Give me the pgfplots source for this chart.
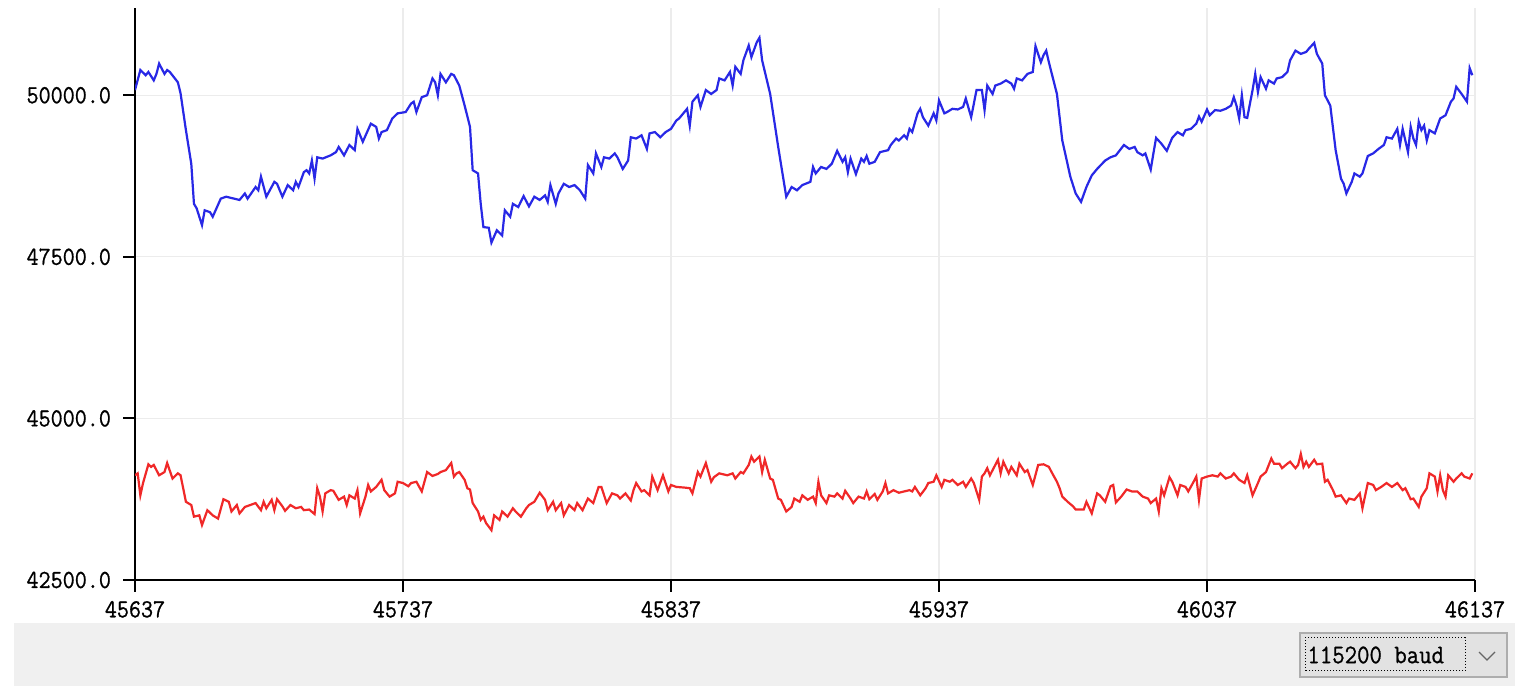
\documentclass[border=0pt]{standalone}
\usepackage{pgfplots}
\pgfplotsset{compat=1.18}
\usepackage{fontspec}
\setmainfont{Latin Modern Mono}[FakeStretch=0.9, FakeBold=0.8]
\definecolor{plotblue}{RGB}{40,40,230}
\definecolor{plotred}{RGB}{240,40,40}
\definecolor{gridgray}{RGB}{236,236,236}
\definecolor{bargray}{RGB}{240,240,240}
\definecolor{boxfill}{RGB}{226,226,226}
\definecolor{boxline}{RGB}{173,173,173}

\begin{document}
\begin{tikzpicture}
% page and bottom bar (1px = 0.5pt)
\fill[white] (0,0) rectangle (757.5pt,350pt);
\fill[bargray] (7pt,7pt) rectangle (757.5pt,38.5pt);
\filldraw[fill=boxfill, draw=boxline, line width=0.6pt] (650pt,11.5pt) rectangle (753.5pt,33.5pt);
\draw[densely dotted, line width=0.5pt] (652.5pt,14.5pt) rectangle (732.5pt,31pt);
\node[anchor=west, inner sep=0pt, font=\fontsize{13.4}{15}\selectfont] at (653.5pt,22.5pt) {115200 baud};
\draw[black!60, line width=0.6pt] (739.5pt,24pt) -- (743.5pt,20pt) -- (747.5pt,24pt);

\begin{axis}[
at={(67.5pt,60pt)}, anchor=south west,
scale only axis, width=670pt, height=286pt,
xmin=45637, xmax=46137,
ymin=42500, ymax=51350,
scaled x ticks=false, scaled y ticks=false,
axis x line=bottom, axis y line=left,
axis line style={-, line width=1pt, black},
tick align=outside, major tick length=6pt,
tick style={line width=1pt, black},
xtick={45637,45737,45837,45937,46037,46137},
xticklabels={45637,45737,45837,45937,46037,46137},
ytick={42500,45000,47500,50000},
yticklabels={42500.0,45000.0,47500.0,50000.0},
tick label style={font=\fontsize{13}{15}\selectfont},
yticklabel style={xshift=-2.5pt},
xticklabel style={yshift=-1pt},
grid=major,
major grid style={gridgray, line width=0.6pt},
]
\addplot[plotblue, line width=1.1pt] coordinates {
(45637,50080) (45639,50390) (45641,50310) (45642,50360) (45644,50230) (45645,50330) (45646,50490) (45648,50330) (45649,50390) (45650,50360) (45653,50200) (45654,50030) (45656,49460) (45658,48940) (45659,48320) (45660,48250) (45662,47990) (45663,48220) (45665,48190) (45666,48120) (45669,48400) (45671,48430) (45674,48400) (45676,48380) (45678,48480) (45679,48400) (45682,48580) (45683,48530) (45684,48740) (45686,48430) (45689,48660) (45690,48630) (45692,48430) (45694,48610) (45696,48530) (45697,48660) (45698,48580) (45700,48810) (45701,48840) (45702,48790) (45703,48990) (45704,48710) (45705,49040) (45707,49020) (45710,49070) (45712,49120) (45713,49200) (45715,49070) (45717,49230) (45719,49150) (45720,49480) (45722,49280) (45725,49560) (45727,49510) (45728,49330) (45729,49430) (45731,49460) (45733,49640) (45735,49720) (45738,49740) (45740,49870) (45741,49900) (45742,49740) (45744,49970) (45746,50000) (45748,50260) (45749,50200) (45750,50000) (45751,50330) (45753,50200) (45755,50330) (45756,50310) (45758,50150) (45760,49840) (45762,49510) (45763,48840) (45765,48790) (45766,48320) (45767,47960) (45769,47950) (45770,47720) (45772,47910) (45774,47830) (45775,48220) (45777,48120) (45778,48320) (45780,48270) (45782,48440) (45784,48280) (45786,48430) (45788,48380) (45790,48450) (45791,48350) (45792,48610) (45794,48320) (45795,48480) (45797,48630) (45799,48580) (45801,48610) (45803,48530) (45805,48400) (45806,48920) (45808,48790) (45809,49100) (45811,48890) (45812,49040) (45814,49020) (45816,49100) (45817,49040) (45819,48860) (45821,48990) (45822,49350) (45824,49330) (45826,49380) (45828,49170) (45829,49410) (45831,49430) (45833,49350) (45835,49430) (45837,49480) (45839,49610) (45840,49640) (45842,49740) (45843,49790) (45844,49530) (45845,49900) (45847,50000) (45848,49820) (45850,50080) (45852,50020) (45854,50080) (45855,50260) (45857,50230) (45859,50360) (45860,50150) (45861,50440) (45863,50330) (45864,50540) (45866,50770) (45867,50590) (45869,50820) (45870,50890) (45871,50540) (45874,50020) (45877,49200) (45880,48430) (45882,48580) (45884,48530) (45886,48610) (45889,48660) (45890,48890) (45891,48790) (45893,48890) (45895,48860) (45897,48940) (45899,49140) (45901,48970) (45902,49040) (45903,48810) (45904,49020) (45906,48780) (45908,49020) (45909,48970) (45910,49060) (45911,48940) (45913,48970) (45915,49120) (45918,49150) (45919,49230) (45921,49330) (45922,49300) (45924,49380) (45925,49330) (45926,49480) (45927,49430) (45929,49720) (45930,49790) (45931,49660) (45933,49530) (45935,49720) (45936,49610) (45937,49920) (45939,49720) (45940,49740) (45942,49790) (45944,49780) (45946,49820) (45947,49950) (45949,49660) (45951,50080) (45953,50080) (45954,49770) (45955,50150) (45957,50020) (45958,50150) (45960,50180) (45962,50230) (45964,50180) (45965,50100) (45966,50260) (45968,50230) (45970,50330) (45972,50360) (45973,50760) (45975,50510) (45976,50620) (45977,50690) (45978,50510) (45981,50020) (45983,49300) (45986,48740) (45988,48480) (45990,48350) (45992,48580) (45994,48760) (45996,48860) (45999,48990) (46001,49040) (46003,49070) (46006,49230) (46008,49170) (46010,49200) (46011,49120) (46013,49070) (46014,49100) (46016,48850) (46017,49100) (46018,49340) (46020,49250) (46022,49140) (46024,49340) (46026,49430) (46028,49380) (46029,49460) (46031,49480) (46033,49560) (46034,49670) (46035,49590) (46037,49780) (46038,49690) (46040,49770) (46042,49760) (46044,49790) (46046,49840) (46047,49970) (46048,49840) (46049,49640) (46050,50000) (46051,49660) (46052,49650) (46054,50080) (46055,50330) (46056,50050) (46057,50280) (46059,50100) (46060,50230) (46062,50180) (46063,50260) (46065,50280) (46067,50360) (46068,50540) (46070,50690) (46072,50640) (46074,50670) (46075,50720) (46077,50810) (46078,50640) (46080,50490) (46081,50000) (46083,49840) (46085,49150) (46087,48710) (46088,48630) (46089,48480) (46091,48660) (46092,48790) (46094,48740) (46095,48790) (46097,49060) (46099,49100) (46101,49170) (46103,49230) (46104,49350) (46106,49330) (46108,49480) (46109,49230) (46110,49480) (46112,49120) (46113,49510) (46114,49330) (46115,49230) (46116,49590) (46117,49460) (46118,49530) (46119,49300) (46120,49460) (46122,49410) (46124,49640) (46126,49690) (46128,49900) (46129,49950) (46130,50130) (46132,50020) (46134,49900) (46135,50420) (46136,50310)
};
\addplot[plotred, line width=1.1pt] coordinates {
(45637,44120) (45638,44150) (45639,43810) (45640,44000) (45642,44290) (45643,44250) (45644,44280) (45646,44120) (45648,44170) (45649,44310) (45651,44070) (45653,44150) (45654,44120) (45656,43710) (45658,43660) (45659,43480) (45661,43500) (45662,43350) (45664,43580) (45666,43500) (45668,43450) (45670,43750) (45672,43710) (45673,43560) (45675,43660) (45676,43530) (45678,43630) (45680,43660) (45682,43690) (45684,43580) (45685,43710) (45686,43610) (45688,43740) (45689,43580) (45690,43750) (45692,43640) (45693,43570) (45695,43660) (45697,43610) (45699,43630) (45700,43580) (45702,43590) (45704,43520) (45705,43920) (45706,43790) (45707,43560) (45708,43840) (45710,43890) (45711,43880) (45713,43740) (45715,43790) (45716,43660) (45717,43810) (45719,43760) (45720,43890) (45721,43530) (45723,43790) (45724,43970) (45725,43870) (45727,43940) (45729,44050) (45730,43890) (45732,43790) (45734,43840) (45735,44020) (45737,44000) (45739,43950) (45740,44000) (45742,44020) (45744,43870) (45745,44020) (45746,44170) (45748,44110) (45750,44140) (45751,44170) (45753,44200) (45755,44310) (45756,44100) (45757,44150) (45758,44170) (45760,44050) (45761,43920) (45762,43900) (45763,43690) (45765,43560) (45766,43430) (45767,43480) (45768,43380) (45770,43270) (45771,43500) (45773,43430) (45774,43560) (45776,43480) (45778,43610) (45779,43560) (45781,43480) (45783,43610) (45784,43660) (45786,43710) (45788,43850) (45790,43740) (45791,43580) (45793,43710) (45794,43580) (45796,43690) (45797,43500) (45799,43660) (45801,43580) (45802,43690) (45804,43580) (45806,43760) (45808,43690) (45810,43940) (45811,43940) (45813,43690) (45815,43840) (45817,43810) (45818,43760) (45820,43840) (45822,43730) (45823,43890) (45824,44000) (45826,43870) (45827,43890) (45829,43810) (45830,44100) (45832,43890) (45834,44120) (45836,43870) (45837,43970) (45839,43940) (45842,43930) (45844,43920) (45845,43840) (45847,44170) (45848,44100) (45850,44310) (45852,44020) (45853,44090) (45855,44150) (45858,44120) (45860,44150) (45861,44070) (45863,44170) (45864,44150) (45866,44280) (45867,44410) (45868,44330) (45870,44410) (45871,44170) (45872,44360) (45874,44070) (45875,44050) (45877,43760) (45878,43740) (45880,43560) (45882,43630) (45883,43760) (45885,43710) (45886,43810) (45888,43740) (45890,43790) (45891,43690) (45892,44020) (45893,43810) (45895,43690) (45896,43810) (45898,43790) (45899,43840) (45901,43760) (45902,43880) (45904,43760) (45905,43690) (45907,43790) (45909,43760) (45910,43870) (45911,43750) (45913,43830) (45914,43740) (45916,43870) (45917,44000) (45918,43840) (45920,43890) (45922,43850) (45924,43870) (45926,43890) (45927,43870) (45928,43940) (45930,43810) (45932,43920) (45933,44000) (45935,44020) (45936,44120) (45938,43940) (45939,44050) (45941,44020) (45942,44050) (45944,43970) (45946,44020) (45947,43940) (45949,44070) (45950,44000) (45952,43740) (45953,44100) (45954,44150) (45955,44230) (45956,44120) (45958,44280) (45959,44360) (45960,44150) (45961,44330) (45963,44150) (45964,44250) (45966,44120) (45967,44300) (45969,44170) (45970,44200) (45972,43970) (45974,44280) (45976,44290) (45978,44250) (45979,44170) (45981,44020) (45982,43920) (45983,43790) (45985,43710) (45987,43640) (45988,43590) (45991,43590) (45992,43710) (45994,43530) (45996,43840) (45997,43810) (45999,43710) (46001,43950) (46002,43970) (46003,43700) (46005,43790) (46007,43900) (46009,43870) (46011,43870) (46013,43790) (46015,43760) (46016,43690) (46018,43760) (46019,43560) (46020,43920) (46021,43810) (46023,44090) (46024,44020) (46026,43810) (46027,43970) (46029,43940) (46030,43870) (46032,44020) (46033,44100) (46034,43740) (46035,44070) (46037,44100) (46039,44120) (46041,44100) (46042,44150) (46044,44070) (46046,44100) (46047,44150) (46049,44050) (46051,44000) (46052,44120) (46054,43810) (46056,44000) (46057,44100) (46059,44170) (46061,44380) (46062,44300) (46064,44300) (46065,44230) (46067,44300) (46068,44330) (46070,44230) (46071,44280) (46072,44450) (46073,44250) (46074,44330) (46075,44250) (46077,44360) (46078,44290) (46080,44300) (46081,44020) (46082,44050) (46084,43890) (46085,43790) (46087,43810) (46089,43690) (46090,43760) (46092,43740) (46094,43840) (46095,43610) (46097,44000) (46099,43970) (46100,43890) (46102,43940) (46104,44000) (46106,43940) (46108,44000) (46110,43890) (46111,43920) (46113,43750) (46114,43760) (46116,43630) (46117,43790) (46119,43920) (46120,44150) (46122,44100) (46123,43870) (46124,44120) (46125,43890) (46126,43790) (46127,44120) (46129,44020) (46130,44070) (46132,44150) (46133,44100) (46135,44070) (46136,44150)
};
\end{axis}
\end{tikzpicture}
\end{document}
